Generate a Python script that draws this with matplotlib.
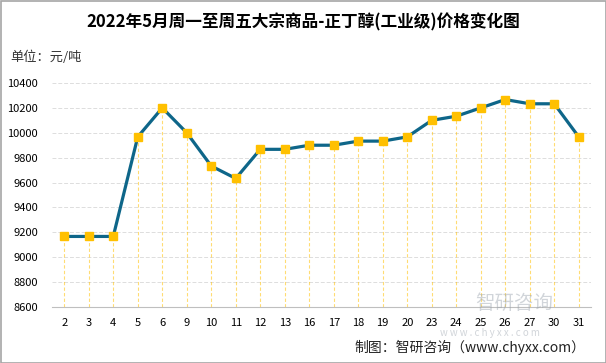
import matplotlib
matplotlib.use("Agg")
import matplotlib.pyplot as plt
from matplotlib.patches import Rectangle

plt.rcParams['font.family'] = ['Noto Sans CJK SC', 'DejaVu Sans']

days = ["2", "3", "4", "5", "6", "9", "10", "11", "12", "13", "16", "17",
        "18", "19", "20", "23", "24", "25", "26", "27", "30", "31"]
prices = [9167, 9167, 9167, 9967, 10200, 10000, 9733, 9633, 9867, 9867, 9900,
          9900, 9933, 9933, 9967, 10100, 10133, 10200, 10267, 10233, 10233, 9967]
yticks = [8600, 8800, 9000, 9200, 9400, 9600, 9800, 10000, 10200, 10400]

title = "2022年5月周一至周五大宗商品-正丁醇(工业级)价格变化图"
unit = "单位：元/吨"
source = "制图：智研咨询（www.chyxx.com）"

fig = plt.figure(figsize=(6.06, 3.63), dpi=100)
ax = fig.add_axes([52/606, 1-307/363, (591-52)/606, (307-83)/363])

x = list(range(len(days)))
ax.vlines(x, yticks[0], prices, colors="#FFC000", linestyles=(0, (3, 2)), linewidth=0.8, alpha=0.55, zorder=1)
ax.plot(x, prices, color="#0E6689", linewidth=2.3, zorder=2)
ax.plot(x, prices, linestyle="none", marker="s", markersize=5.2, color="#FFC000", zorder=3)

ax.set_xlim(-0.5, len(days) - 0.5)
ax.set_ylim(yticks[0], yticks[-1])
ax.set_yticks(yticks)
ax.set_xticks(x)
ax.set_xticklabels(days)
ax.yaxis.grid(True, color="#DDDDDD", linestyle=(0, (4, 2)), linewidth=0.7)
ax.set_axisbelow(True)
for s in ["top", "right", "left"]:
    ax.spines[s].set_visible(False)
ax.spines["bottom"].set_color("#BFBFBF")
ax.tick_params(axis="both", length=0, labelsize=8, colors="black")
ax.tick_params(axis="x", pad=8)
ax.tick_params(axis="y", pad=10)

fig.text(0.5, 1-22/363, title, ha="center", va="center", fontsize=12, fontweight="bold")
fig.text(10/606, 1-57/363, unit, ha="left", va="center", fontsize=9.5, color="#333333")
fig.text(585/606, 1-347/363, source, ha="right", va="center", fontsize=10, color="#222222")
fig.text(475/606, 1-303/363, "智研咨询", ha="left", va="center", fontsize=14, color="#9AA3AD", alpha=0.45)
fig.text(440/606, 1-333/363, "w w w . c h y x x . c o m", ha="left", va="center", fontsize=7, color="#9AA3AD", alpha=0.45)

fig.add_artist(Rectangle((0.5/606, 0.5/363), 605/606, 362/363, transform=fig.transFigure,
                         fill=False, edgecolor="#A6A6A6", linewidth=1.2))

fig.savefig("out.png", dpi=100)
